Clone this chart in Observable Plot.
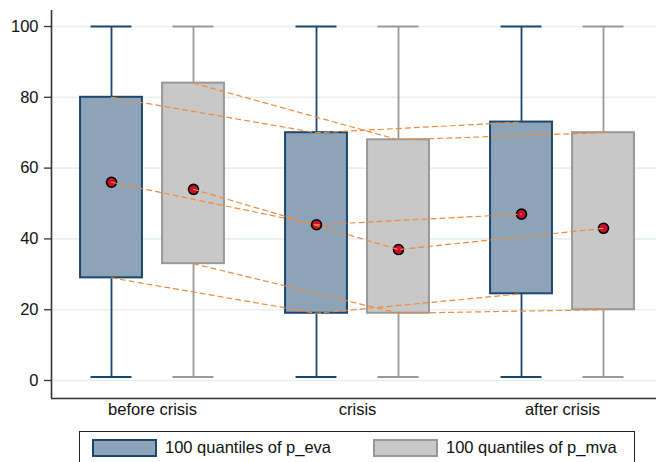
<!DOCTYPE html>
<html>
<head>
<meta charset="utf-8">
<script src="https://cdn.jsdelivr.net/npm/d3@7"></script>
<script src="https://cdn.jsdelivr.net/npm/@observablehq/plot@0.6"></script>
<style>
  html, body { margin: 0; padding: 0; background: #fff; }
  #chart { position: relative; width: 656px; height: 462px; overflow: hidden; font-family: "Liberation Sans", Arial, Helvetica, sans-serif; }
  #chart svg { display: block; }
  .legend { position: absolute; left: 79px; top: 431px; width: 556px; height: 40px; border: 1.2px solid #222; box-sizing: border-box; background: #fff; }
  .legend .item { position: absolute; top: 6px; display: flex; align-items: center; font-size: 16.5px; color: #111; }
  .legend .sw { width: 61px; height: 14px; border-width: 2px; border-style: solid; margin-right: 8px; }
</style>
</head>
<body>
<div id="chart"></div>
<script>
// ---- data ----
const groups = ["before crisis", "crisis", "after crisis"];
const series = ["p_eva", "p_mva"];
const legendLabels = ["100 quantiles of p_eva", "100 quantiles of p_mva"];
const yTicks = [0, 20, 40, 60, 80, 100];

const evaMin = [1, 1, 1];
const evaQ1 = [29, 19, 24.5];
const evaMed = [56, 44, 47];
const evaQ3 = [80, 70, 73];
const evaMax = [100, 100, 100];

const mvaMin = [1, 1, 1];
const mvaQ1 = [33, 19, 20];
const mvaMed = [54, 37, 43];
const mvaQ3 = [84, 68, 70];
const mvaMax = [100, 100, 100];

// ---- styles ----
const fills = {p_eva: "#8ca3b8", p_mva: "#c8c8c8"};
const strokes = {p_eva: "#1a476f", p_mva: "#999999"};
const offset = {p_eva: -0.2, p_mva: 0.2};
const boxHalf = 0.151, capHalf = 0.1;

const stats = {
  p_eva: {min: evaMin, q1: evaQ1, med: evaMed, q3: evaQ3, max: evaMax},
  p_mva: {min: mvaMin, q1: mvaQ1, med: mvaMed, q3: mvaQ3, max: mvaMax}
};

const rows = [];
series.forEach(s => groups.forEach((g, i) => {
  const st = stats[s];
  rows.push({series: s, group: g, gi: i, xc: i + offset[s],
    min: st.min[i], q1: st.q1[i], med: st.med[i], q3: st.q3[i], max: st.max[i]});
}));

const lineRows = [];
rows.forEach(r => ["q1", "med", "q3"].forEach(k => lineRows.push({key: r.series + "-" + k, xc: r.xc, gi: r.gi, v: r[k]})));

const xDomain = [-0.4927, 2.4585];
const yDomain = [-5.08, 104.52];

const plot = Plot.plot({
  width: 656,
  height: 428,
  marginLeft: 51,
  marginRight: 0,
  marginTop: 10,
  marginBottom: 30,
  style: {fontFamily: "'Liberation Sans', Arial, Helvetica, sans-serif", fontSize: "16.5px", color: "#111", background: "#fff"},
  x: {domain: xDomain, axis: null, label: null},
  y: {domain: yDomain, axis: null, label: null},
  marks: [
    Plot.gridY(yTicks, {stroke: "#e7eff1", strokeOpacity: 1, strokeWidth: 1.6}),
    Plot.axisY(yTicks, {tickSize: 7, tickPadding: 6, stroke: "#333", strokeWidth: 1.3, fontSize: 16.5, fill: "#111", label: null}),
    Plot.axisX([0, 1, 2], {tickSize: 0, tickPadding: 5, tickFormat: i => groups[i], fontSize: 16.5, fill: "#111", label: null}),
    // whiskers
    Plot.ruleX(rows, {x: "xc", y1: "q3", y2: "max", stroke: d => strokes[d.series], strokeWidth: 1.8}),
    Plot.ruleX(rows, {x: "xc", y1: "min", y2: "q1", stroke: d => strokes[d.series], strokeWidth: 1.8}),
    // caps
    Plot.ruleY(rows, {y: "max", x1: d => d.xc - capHalf, x2: d => d.xc + capHalf, stroke: d => strokes[d.series], strokeWidth: 2.2}),
    Plot.ruleY(rows, {y: "min", x1: d => d.xc - capHalf, x2: d => d.xc + capHalf, stroke: d => strokes[d.series], strokeWidth: 2.2}),
    // boxes
    Plot.rect(rows, {x1: d => d.xc - boxHalf, x2: d => d.xc + boxHalf, y1: "q1", y2: "q3", fill: d => fills[d.series], stroke: d => strokes[d.series], strokeWidth: 2}),
    // medians
    Plot.dot(rows, {x: "xc", y: "med", r: 5, fill: "#c8102e", stroke: "#000", strokeWidth: 1.6}),
    // connecting dashed lines
    Plot.line(lineRows, {x: "xc", y: "v", z: "key", stroke: "#f08a3c", strokeWidth: 1.2, strokeDasharray: "5,4", curve: "linear"}),
    // axis lines
    Plot.ruleX([xDomain[0]], {stroke: "#333", strokeWidth: 1.6}),
    Plot.ruleY([yDomain[0]], {stroke: "#333", strokeWidth: 1.6})
  ]
});

const chart = document.getElementById("chart");
chart.appendChild(plot);

const legend = document.createElement("div");
legend.className = "legend";
const lefts = [12, 293];
series.forEach((s, i) => {
  const item = document.createElement("div");
  item.className = "item";
  item.style.left = lefts[i] + "px";
  const sw = document.createElement("div");
  sw.className = "sw";
  sw.style.background = fills[s];
  sw.style.borderColor = strokes[s];
  const t = document.createElement("span");
  t.textContent = legendLabels[i];
  item.appendChild(sw);
  item.appendChild(t);
  legend.appendChild(item);
});
chart.appendChild(legend);
</script>
</body>
</html>
